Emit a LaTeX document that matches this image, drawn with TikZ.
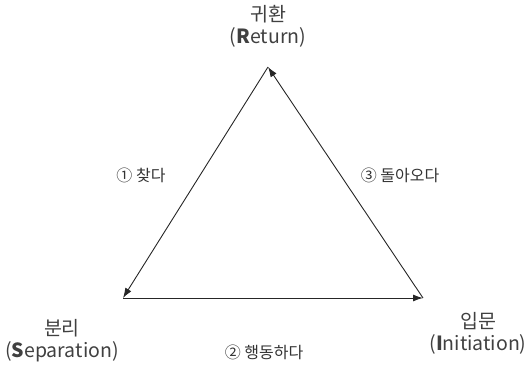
\documentclass[tikz,border=0pt]{standalone}
\usepackage{fontspec}
\setmainfont{Noto Sans CJK KR}
\usetikzlibrary{arrows.meta}
\begin{document}
\begin{tikzpicture}[x=1pt,y=-1pt,
  vlabel/.style={align=center,font=\fontsize{19.5}{22}\selectfont,text=black!75,inner sep=0pt},
  elabel/.style={font=\fontsize{16}{18}\selectfont,text=black!80,inner sep=0pt},
  edge/.style={draw=black!85,line width=0.9pt,-{Latex[length=10pt,width=7pt]},shorten >=0pt}]
\useasboundingbox (0,0) rectangle (530,371);
\coordinate (R) at (268,67);
\coordinate (S) at (123,298);
\coordinate (I) at (423,298);
\node[vlabel] (rl) at (268,26) {귀환\\(\textbf{R}eturn)};
\node[vlabel] (sl) at (62,341) {분리\\(\textbf{S}eparation)};
\node[vlabel] (il) at (478,333) {입문\\(\textbf{I}nitiation)};
\draw[edge] (R) -- (S);
\draw[edge] (S) -- (I);
\draw[edge] (I) -- (R);
\node[elabel] (e1) at (141,175) {① 찾다};
\node[elabel] (e2) at (264,352) {② 행동하다};
\node[elabel] (e3) at (400,175) {③ 돌아오다};
\end{tikzpicture}
\end{document}
